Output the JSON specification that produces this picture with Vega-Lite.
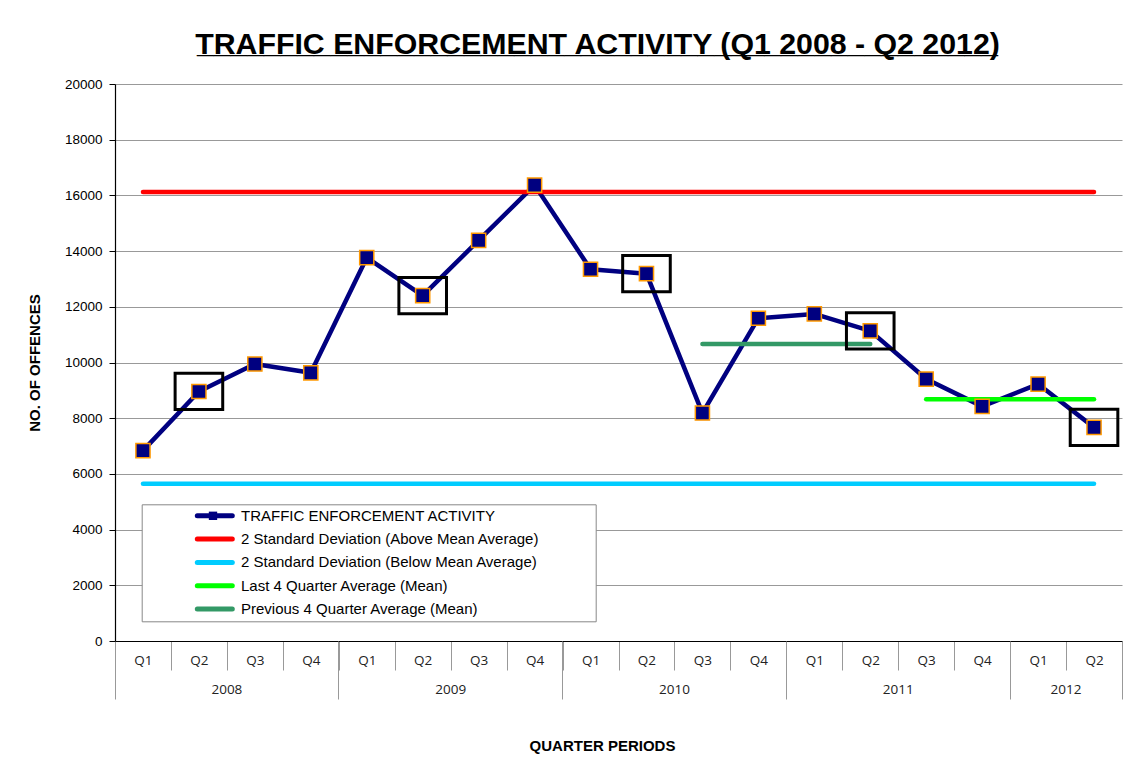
{
  "$schema": "https://vega.github.io/schema/vega-lite/v6.json",
  "width": 1007,
  "height": 557,
  "autosize": {"type": "none"},
  "padding": {"left": 115, "top": 84, "right": 15, "bottom": 133},
  "background": "white",
  "title": {
    "text": "TRAFFIC ENFORCEMENT ACTIVITY (Q1 2008 - Q2 2012)",
    "subtitle": "________________________________________________",
    "font": "Liberation Sans",
    "fontSize": 30.3,
    "fontWeight": "bold",
    "color": "black",
    "subtitleFont": "Liberation Sans",
    "subtitleFontSize": 30,
    "subtitleFontWeight": "bold",
    "subtitleColor": "black",
    "subtitlePadding": -31,
    "anchor": "middle",
    "frame": "group",
    "dx": -21,
    "offset": 16
  },
  "config": {"view": {"stroke": null}},
  "data": {
    "values": [
      {"period": "2008 Q1", "series": "TRAFFIC ENFORCEMENT ACTIVITY", "value": 6835},
      {"period": "2008 Q2", "series": "TRAFFIC ENFORCEMENT ACTIVITY", "value": 8960},
      {"period": "2008 Q3", "series": "TRAFFIC ENFORCEMENT ACTIVITY", "value": 9945},
      {"period": "2008 Q4", "series": "TRAFFIC ENFORCEMENT ACTIVITY", "value": 9630},
      {"period": "2009 Q1", "series": "TRAFFIC ENFORCEMENT ACTIVITY", "value": 13765},
      {"period": "2009 Q2", "series": "TRAFFIC ENFORCEMENT ACTIVITY", "value": 12400},
      {"period": "2009 Q3", "series": "TRAFFIC ENFORCEMENT ACTIVITY", "value": 14385},
      {"period": "2009 Q4", "series": "TRAFFIC ENFORCEMENT ACTIVITY", "value": 16370},
      {"period": "2010 Q1", "series": "TRAFFIC ENFORCEMENT ACTIVITY", "value": 13350},
      {"period": "2010 Q2", "series": "TRAFFIC ENFORCEMENT ACTIVITY", "value": 13190},
      {"period": "2010 Q3", "series": "TRAFFIC ENFORCEMENT ACTIVITY", "value": 8185},
      {"period": "2010 Q4", "series": "TRAFFIC ENFORCEMENT ACTIVITY", "value": 11590},
      {"period": "2011 Q1", "series": "TRAFFIC ENFORCEMENT ACTIVITY", "value": 11745},
      {"period": "2011 Q2", "series": "TRAFFIC ENFORCEMENT ACTIVITY", "value": 11135},
      {"period": "2011 Q3", "series": "TRAFFIC ENFORCEMENT ACTIVITY", "value": 9405},
      {"period": "2011 Q4", "series": "TRAFFIC ENFORCEMENT ACTIVITY", "value": 8425},
      {"period": "2012 Q1", "series": "TRAFFIC ENFORCEMENT ACTIVITY", "value": 9225},
      {"period": "2012 Q2", "series": "TRAFFIC ENFORCEMENT ACTIVITY", "value": 7670},
      {"period": "2008 Q1", "series": "2 Standard Deviation (Above Mean Average)", "value": 16120},
      {"period": "2012 Q2", "series": "2 Standard Deviation (Above Mean Average)", "value": 16120},
      {"period": "2008 Q1", "series": "2 Standard Deviation (Below Mean Average)", "value": 5650},
      {"period": "2012 Q2", "series": "2 Standard Deviation (Below Mean Average)", "value": 5650},
      {"period": "2011 Q3", "series": "Last 4 Quarter Average (Mean)", "value": 8680},
      {"period": "2012 Q2", "series": "Last 4 Quarter Average (Mean)", "value": 8680},
      {"period": "2010 Q3", "series": "Previous 4 Quarter Average (Mean)", "value": 10665},
      {"period": "2011 Q2", "series": "Previous 4 Quarter Average (Mean)", "value": 10665}
    ]
  },
  "layer": [
    {
      "transform": [{"filter": "datum.series == 'TRAFFIC ENFORCEMENT ACTIVITY'"}],
      "mark": {"type": "line", "strokeWidth": 4.5, "strokeJoin": "round"},
      "encoding": {
        "x": {
          "field": "period", "type": "ordinal",
          "scale": {"type": "band", "paddingInner": 0, "paddingOuter": 0},
          "axis": {
            "orient": "bottom",
            "title": "QUARTER PERIODS",
            "titleFont": "Liberation Sans", "titleFontSize": 15, "titleFontWeight": "bold", "titleColor": "black",
            "titleX": 487, "titleY": 104, "titleBaseline": "middle", "titleAlign": "center",
            "labelExpr": "split(datum.value, ' ')[1]",
            "labelFont": "Open Sans", "labelFontSize": 13.5, "labelColor": "#222222",
            "labelAngle": 0, "labelBaseline": "middle", "labelPadding": -9.5,
            "tickBand": "extent", "tickSize": 29, "tickColor": "#999999", "tickWidth": 1,
            "domainColor": "black", "domainWidth": 1.2, "grid": false
          }
        },
        "y": {
          "field": "value", "type": "quantitative",
          "scale": {"domain": [0, 20000], "nice": false},
          "axis": {
            "title": "NO. OF OFFENCES",
            "titleFont": "Liberation Sans", "titleFontSize": 15, "titleFontWeight": "bold", "titleColor": "black",
            "titlePadding": 22,
            "values": [0, 2000, 4000, 6000, 8000, 10000, 12000, 14000, 16000, 18000, 20000],
            "format": "d",
            "labelFont": "Liberation Sans", "labelFontSize": 13.5, "labelColor": "black", "labelPadding": 7,
            "tickSize": 6, "tickColor": "black", "domainColor": "black", "domainWidth": 1.2,
            "grid": true, "gridColor": "#999999", "gridWidth": 1
          }
        },
        "color": {
          "field": "series", "type": "nominal",
          "scale": {
            "domain": ["TRAFFIC ENFORCEMENT ACTIVITY", "2 Standard Deviation (Above Mean Average)", "2 Standard Deviation (Below Mean Average)", "Last 4 Quarter Average (Mean)", "Previous 4 Quarter Average (Mean)"],
            "range": ["#000080", "#FF0000", "#00CCFF", "#00FF00", "#339966"]
          },
          "legend": {
            "orient": "none", "legendX": 26.7, "legendY": 420.3,
            "title": " ", "titleOrient": "right", "titlePadding": 53.7, "titleFontSize": 2,
            "padding": 2, "strokeColor": "#888888", "fillColor": "white",
            "symbolType": "M-2.5,0L2.5,0", "symbolSize": 196, "symbolStrokeWidth": 5,
            "symbolOffset": 61.6, "labelOffset": 16.7,
            "labelFont": "Liberation Sans", "labelFontSize": 15, "labelColor": "black", "labelLimit": 500,
            "rowPadding": 2.3,
            "encode": {"symbols": {"update": {"strokeCap": {"value": "round"}}}}
          }
        }
      }
    },
    {
      "transform": [{"filter": "datum.series != 'TRAFFIC ENFORCEMENT ACTIVITY'"}],
      "mark": {"type": "line", "strokeWidth": 4.5, "strokeCap": "round"},
      "encoding": {
        "x": {
          "field": "period", "type": "ordinal",
          "axis": {
            "orient": "bottom", "title": null,
            "values": ["2008 Q1", "2009 Q1", "2010 Q1", "2011 Q1", "2012 Q1"],
            "bandPosition": 0, "labels": false, "domain": false, "grid": false,
            "tickSize": 58, "tickColor": "#999999", "tickWidth": 1
          }
        },
        "y": {"field": "value", "type": "quantitative"},
        "color": {"field": "series", "type": "nominal"}
      }
    },
    {
      "transform": [{"filter": "datum.series == 'TRAFFIC ENFORCEMENT ACTIVITY'"}],
      "mark": {"type": "point", "filled": true, "fill": "#000080", "stroke": "#FF9900", "strokeWidth": 1.5, "size": 200, "opacity": 1},
      "encoding": {
        "x": {
          "field": "period", "type": "ordinal",
          "axis": {
            "orient": "bottom", "title": null,
            "values": ["2012 Q2"],
            "bandPosition": 1, "labels": false, "domain": false, "grid": false,
            "tickSize": 58, "tickColor": "#999999", "tickWidth": 1
          }
        },
        "y": {"field": "value", "type": "quantitative"},
        "shape": {
          "field": "series", "type": "nominal",
          "scale": {"domain": ["TRAFFIC ENFORCEMENT ACTIVITY"], "range": ["square"]},
          "legend": {
            "orient": "none", "legendX": 93, "legendY": 426.8, "title": null, "padding": 0,
            "symbolSize": 70, "symbolFillColor": "#000080", "symbolStrokeColor": "#FF9900", "symbolStrokeWidth": 1.5,
            "symbolOpacity": 1, "labelExpr": "''", "labelOffset": 0
          }
        }
      }
    },
    {
      "transform": [{"filter": "datum.series == 'TRAFFIC ENFORCEMENT ACTIVITY' && indexof(datum.period, 'Q2') >= 0"}],
      "mark": {"type": "point", "shape": "M-1,-0.76L1,-0.76L1,0.76L-1,0.76Z", "filled": false, "stroke": "black", "strokeWidth": 3, "size": 2266, "opacity": 1},
      "encoding": {
        "x": {
          "field": "period", "type": "ordinal",
          "axis": {
            "orient": "bottom", "title": null,
            "values": ["2008 Q3", "2009 Q3", "2010 Q3", "2011 Q3", "2012 Q2"],
            "labelExpr": "split(datum.value, ' ')[0]", "labelOffset": -27.97,
            "labelFont": "Open Sans", "labelFontSize": 13.5, "labelColor": "#222222",
            "labelAngle": 0, "labelBaseline": "middle", "labelPadding": 48,
            "ticks": false, "tickSize": 0, "domain": false, "grid": false
          }
        },
        "y": {"field": "value", "type": "quantitative"}
      }
    }
  ],
  "resolve": {"axis": {"x": "independent"}}
}
